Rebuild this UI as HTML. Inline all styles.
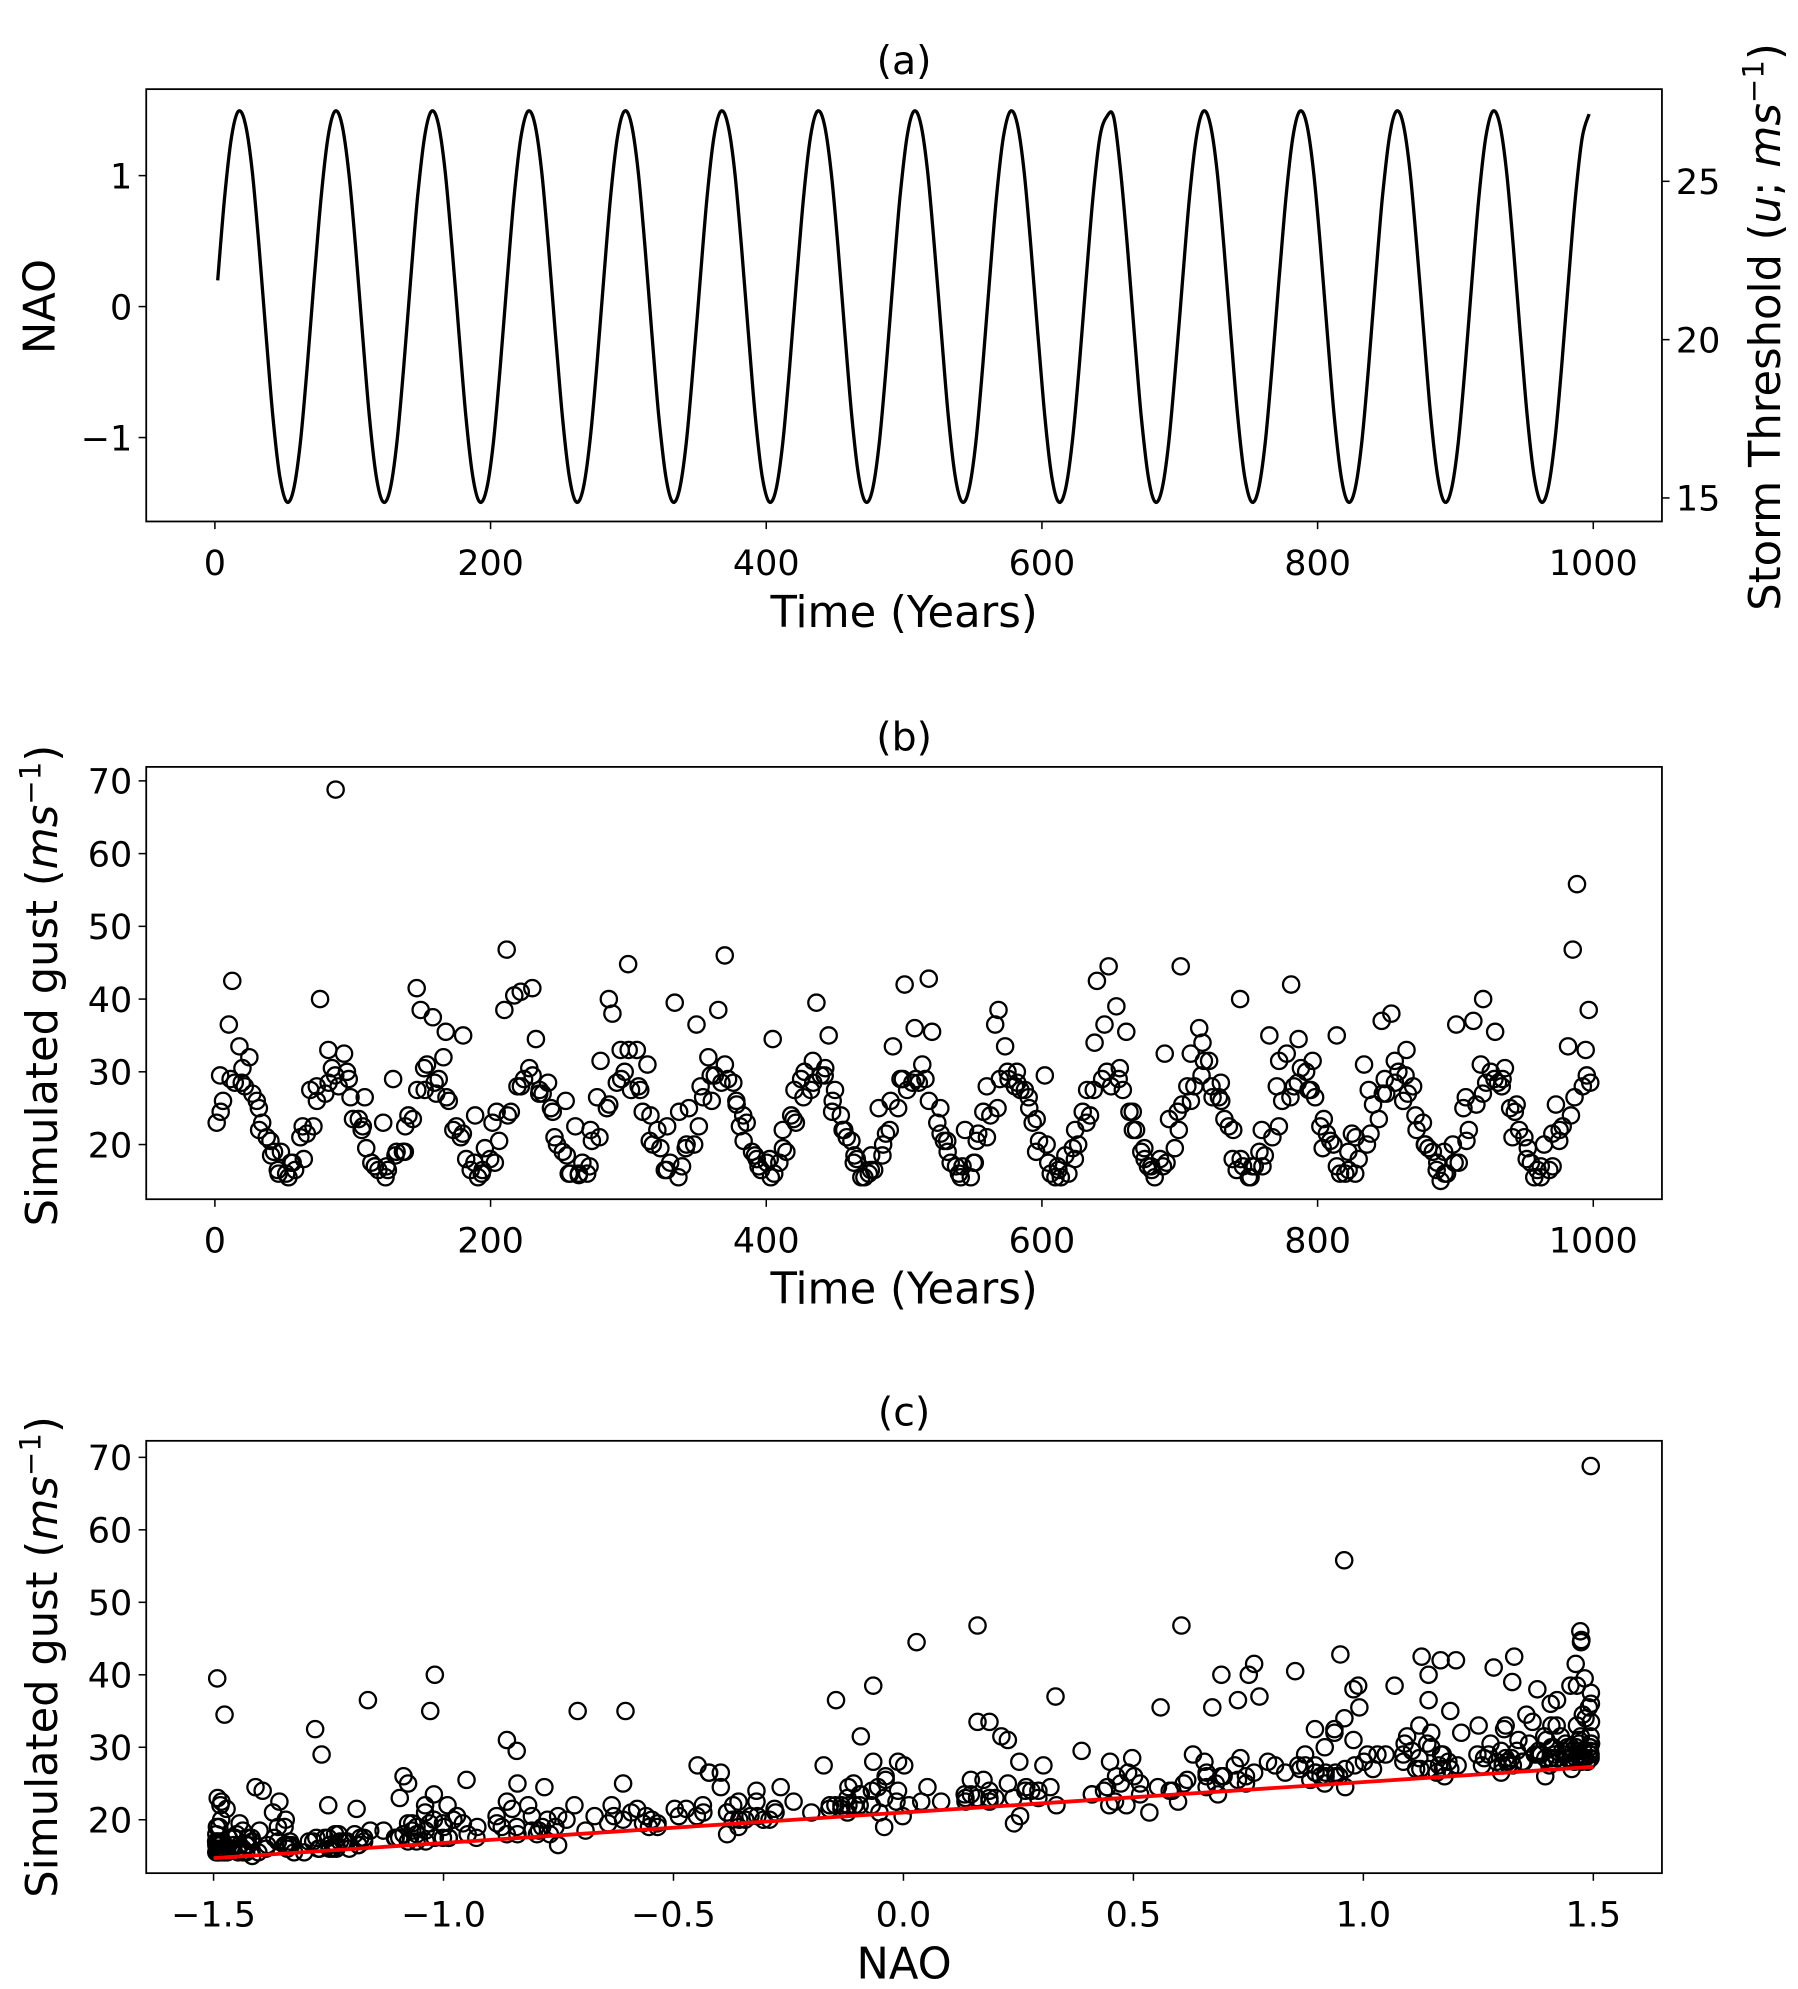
<!DOCTYPE html>
<html><head><meta charset="utf-8"><style>
html,body{margin:0;padding:0;background:#fff}
svg{display:block}
text{font-family:"DejaVu Sans","Liberation Sans",sans-serif;fill:#000}
</style></head>
<body>
<svg id="fig" width="1798" height="1989" viewBox="0 0 1414 1564" xmlns="http://www.w3.org/2000/svg"></svg>
<script>
// ---- data ----
const naoTimes0 = 2, naoStep = 5;
const naoValues = [
0.20,0.83,1.29,1.49,1.40,1.04,0.46,-0.20,-0.83,-1.29,-1.49,-1.40,-1.04,-0.46,
0.20,0.83,1.29,1.49,1.40,1.04,0.46,-0.20,-0.83,-1.29,-1.49,-1.40,-1.04,-0.46,
0.20,0.83,1.29,1.49,1.40,1.04,0.46,-0.20,-0.83,-1.29,-1.49,-1.40,-1.04,-0.46,
0.20,0.83,1.29,1.49,1.40,1.04,0.46,-0.20,-0.83,-1.29,-1.49,-1.40,-1.04,-0.46,
0.20,0.83,1.29,1.49,1.40,1.04,0.46,-0.20,-0.83,-1.29,-1.49,-1.40,-1.04,-0.46,
0.20,0.83,1.29,1.49,1.40,1.04,0.46,-0.20,-0.83,-1.29,-1.49,-1.40,-1.04,-0.46,
0.20,0.83,1.29,1.49,1.40,1.04,0.46,-0.20,-0.83,-1.29,-1.49,-1.40,-1.04,-0.46,
0.20,0.83,1.29,1.49,1.40,1.04,0.46,-0.20,-0.83,-1.29,-1.49,-1.40,-1.04,-0.46,
0.20,0.83,1.29,1.49,1.40,1.04,0.46,-0.20,-0.83,-1.29,-1.49,-1.40,-1.04,-0.46,
0.20,0.83,1.29,1.45,1.45,1.04,0.46,-0.20,-0.83,-1.29,-1.49,-1.40,-1.04,-0.46,
0.20,0.83,1.29,1.49,1.40,1.04,0.46,-0.20,-0.83,-1.29,-1.49,-1.40,-1.04,-0.46,
0.20,0.83,1.29,1.49,1.40,1.04,0.46,-0.20,-0.83,-1.29,-1.49,-1.40,-1.04,-0.46,
0.20,0.83,1.29,1.49,1.40,1.04,0.46,-0.20,-0.83,-1.29,-1.49,-1.40,-1.04,-0.46,
0.20,0.83,1.29,1.49,1.40,1.04,0.46,-0.20,-0.83,-1.29,-1.49,-1.40,-1.04,-0.46,
0.20,0.83,1.29,1.47
];
// event timing jitter (years) applied to the gust series
const timeJitter = [0.3,-1.2,1.1,-0.4,0.8,-1.5,0.0,1.4,-0.9,0.6,-0.2,1.2,-1.1,0.4,-0.6,1.0,-1.3,0.2,0.9,-0.7,1.3,-0.1,-1.4,0.7,0.1,-0.8,1.5,-0.3,0.5,-1.0,1.1,-0.5,0.3,-1.2,0.8,-0.6,1.4];
const gustTime0 = 1, gustStep = 4;
const gustValues = [
23.0,29.5,36.5,42.5,33.5,28.5,32.0,26.0,22.0,21.0,18.5,16.0,19.0,15.5,17.5,21.0,22.5,27.5,28.0,40.0,
33.0,30.5,68.8,32.5,29.0,23.5,22.0,26.5,17.5,17.0,23.0,17.0,29.0,19.0,19.0,24.0,41.5,38.5,30.5,37.5,
27.0,32.0,35.5,22.0,21.0,35.0,16.5,24.0,16.5,19.5,23.0,24.5,38.5,46.8,40.5,41.0,29.0,41.5,34.5,27.5,
28.5,24.5,20.0,26.0,16.0,22.5,15.8,16.0,22.0,26.5,31.5,40.0,38.0,33.0,30.0,44.8,33.0,27.5,31.0,20.5,
22.0,16.5,22.5,39.5,24.5,20.0,25.0,36.5,28.0,32.0,29.5,38.5,46.0,29.0,26.0,22.5,20.5,19.0,18.0,16.5,
18.0,34.5,17.5,22.0,24.0,27.5,29.0,30.0,31.5,39.5,29.5,35.0,24.5,24.0,22.0,20.5,17.5,15.5,16.0,18.5,
25.0,20.0,26.0,33.5,29.0,42.0,28.5,36.0,31.0,42.8,35.5,25.0,20.5,19.0,17.0,15.5,22.0,17.5,20.5,24.5,
28.0,36.5,38.5,33.5,29.0,30.0,27.5,26.5,23.0,19.0,29.5,17.5,15.5,17.0,18.5,19.5,22.0,24.5,27.5,34.0,
42.5,36.5,44.5,39.0,29.0,35.5,24.5,22.0,19.5,17.0,16.5,18.0,32.5,23.5,24.5,44.5,28.0,32.5,36.0,34.0,
31.5,26.5,28.5,23.5,18.0,16.5,40.0,15.5,17.0,19.0,22.0,35.0,28.0,31.5,32.5,42.0,34.5,30.5,27.5,31.5,
22.5,19.5,20.5,35.0,16.0,19.0,21.5,21.0,31.0,27.5,25.5,37.0,29.0,38.0,31.5,26.0,33.0,28.0,22.0,20.0,
19.5,16.5,15.0,19.0,20.0,36.5,25.0,26.5,37.0,31.0,40.0,30.0,35.5,29.0,30.5,21.0,25.5,21.0,18.0,15.5,
17.0,20.0,21.5,25.5,22.0,33.5,46.8,55.8,33.0,38.5
];
const gustTime0b = 3;
const gustValuesB = [
24.5,26.0,29.0,28.5,30.5,28.0,27.0,25.0,23.0,20.5,19.0,16.5,16.0,17.5,16.5,18.0,21.5,22.5,26.0,27.0,28.5,29.5,28.0,30.0,26.5,23.5,22.5,19.5,17.0,16.5,15.5,16.5,18.5,19.0,22.5,
23.5,27.5,27.5,31.0,28.5,29.0,26.5,26.0,22.5,21.5,18.0,17.5,15.5,16.0,18.0,17.5,20.5,24.0,24.5,28.0,28.0,30.5,29.5,27.0,27.0,25.0,21.0,19.0,18.5,16.0,16.0,17.5,17.0,20.5,21.0,
25.0,25.5,28.5,29.0,33.0,27.5,28.0,24.5,24.0,20.0,19.5,16.5,17.5,15.5,17.0,19.5,20.0,22.5,26.5,26.0,29.5,28.5,31.0,28.5,25.5,24.0,23.0,18.5,17.0,17.5,15.5,16.0,19.5,19.0,23.5,
23.0,26.5,27.5,28.5,29.5,30.5,26.0,27.5,22.0,21.0,18.5,18.0,15.5,16.5,16.5,18.5,21.5,22.0,25.0,29.0,27.5,29.0,28.5,29.0,26.0,23.0,21.5,20.5,17.5,16.0,17.0,15.5,17.5,21.5,21.0,
24.0,25.0,29.0,30.0,28.0,28.5,27.5,25.0,23.5,20.5,20.0,16.0,16.5,15.5,16.0,18.0,20.0,23.0,24.0,27.5,29.0,30.0,28.0,30.5,27.5,24.5,22.0,19.0,18.0,17.0,15.5,17.0,17.5,19.5,22.0,
25.5,26.0,28.0,29.5,31.5,28.0,26.5,26.0,22.5,22.0,18.0,17.0,15.5,17.0,17.0,18.5,21.0,22.5,26.0,26.5,28.0,28.5,30.0,27.5,26.5,23.5,21.5,20.0,17.0,16.0,16.5,16.0,18.0,20.0,21.5,
23.5,27.0,27.0,28.5,30.0,29.5,27.0,24.0,23.0,20.0,19.0,17.5,16.0,16.0,17.5,17.5,20.5,22.0,25.5,27.0,28.5,29.0,28.5,28.0,25.0,24.5,22.0,19.5,17.5,16.5,15.5,16.5,17.0,20.5,22.5,
24.0,26.5,28.0,29.5,28.5
];
const fitIntercept = [21.0];
const fitSlope = [4.2];
const timeTicks = [0,200,400,600,800,1000];
const naoTicks = [-1,0,1];
const thrTicks = [15,20,25];
const gustTicks = [20,30,40,50,60,70];
const naoXTicks = [-1.5,-1.0,-0.5,0.0,0.5,1.0,1.5];

const NS="http://www.w3.org/2000/svg";
const svg=document.getElementById('fig');
function mk(tag,attrs,parent){const e=document.createElementNS(NS,tag);for(const k in attrs)e.setAttribute(k,attrs[k]);(parent||svg).appendChild(e);return e;}
function txt(s,attrs,parent){const e=mk('text',attrs,parent);e.textContent=s;return e;}

const L=115,R=1307;
const TF=27.5, LF=34, HF=31;
const xTime=t=>169+t*(1253-169)/1000;
const yNAO=v=>241-v*103;
const yThr=v=>267-(v-20)*24.9;
const yGustB=v=>900-(v-20)*5.72;
const xNAO=v=>710.5+v*361.7;
const yGustC=v=>1431-(v-20)*5.7;
function naoAt(t){const f=(t-naoTimes0)/naoStep;let i=Math.floor(f);const n=naoValues.length;
  if(i<0)return naoValues[0];if(i>=n-1)return naoValues[n-1];
  const r=f-i;const p0=naoValues[Math.max(i-1,0)],p1=naoValues[i],p2=naoValues[i+1],p3=naoValues[Math.min(i+2,n-1)];
  return 0.5*((2*p1)+(-p0+p2)*r+(2*p0-5*p1+4*p2-p3)*r*r+(-p0+3*p1-3*p2+p3)*r*r*r);}
const tA=i=>gustTime0+i*gustStep+timeJitter[i%timeJitter.length];
const tB=i=>gustTime0b+i*gustStep+timeJitter[(i+11)%timeJitter.length];

function frame(top,bot,name){
  const r=mk('rect',{x:L,y:top,width:R-L,height:bot-top,fill:'none',stroke:'#000','stroke-width':1.4});
  
  
}
function xticks(vals,fx,bot,labY,fmt,name){
  const g=mk('g',{});
  
  
  vals.forEach(v=>{const x=fx(v);mk('line',{x1:x,x2:x,y1:bot,y2:bot+6,stroke:'#000','stroke-width':1.2},g);
    txt(fmt(v),{x:x,y:labY,'font-size':TF,'text-anchor':'middle'},g);});
}
function yticks(vals,fy,name,right){
  const g=mk('g',{});
  
  
  vals.forEach(v=>{const y=fy(v);
    if(right){mk('line',{x1:R,x2:R+6,y1:y,y2:y,stroke:'#000','stroke-width':1.2},g);
      txt(String(v),{x:R+11,y:y+10,'font-size':TF,'text-anchor':'start'},g);}
    else{mk('line',{x1:L-6,x2:L,y1:y,y2:y,stroke:'#000','stroke-width':1.2},g);
      txt(String(v).replace('-','\u2212'),{x:L-11,y:y+10,'font-size':TF,'text-anchor':'end'},g);}
  });
}
function title(s,y,name){const t=txt(s,{x:711,y:y,'font-size':HF,'text-anchor':'middle'});}
function xlabel(s,y,name){const t=txt(s,{x:711,y:y,'font-size':LF,'text-anchor':'middle'});}
function gustYLabel(cy,name){
  const t=mk('text',{x:0,y:0,'font-size':LF,'text-anchor':'middle',transform:`translate(45,${cy}) rotate(-90)`});
  
  t.innerHTML='Simulated gust (<tspan font-style="italic">ms</tspan><tspan font-size="23" dy="-13">\u22121</tspan><tspan dy="13">)</tspan>';
}

// ---- panel a ----
title('(a)',58,'title-a');
frame(70,410,'axes-a');
const pts=naoValues.map((v,i)=>[xTime(naoTimes0+i*naoStep),yNAO(v)]);
let d='M'+pts[0][0].toFixed(1)+','+pts[0][1].toFixed(1);
for(let i=0;i<pts.length-1;i++){const p0=pts[Math.max(i-1,0)],p1=pts[i],p2=pts[i+1],p3=pts[Math.min(i+2,pts.length-1)];
  const c1x=p1[0]+(p2[0]-p0[0])/6,c1y=p1[1]+(p2[1]-p0[1])/6,c2x=p2[0]-(p3[0]-p1[0])/6,c2y=p2[1]-(p3[1]-p1[1])/6;
  d+=` C${c1x.toFixed(1)},${c1y.toFixed(1)} ${c2x.toFixed(1)},${c2y.toFixed(1)} ${p2[0].toFixed(1)},${p2[1].toFixed(1)}`;}
const pa=mk('path',{d:d,fill:'none',stroke:'#000','stroke-width':2.6,'stroke-linejoin':'round'});


xticks(timeTicks,xTime,410,452,v=>String(v),'x-ticks-a');
yticks(naoTicks,yNAO,'y-ticks-a',false);
yticks(thrTicks,yThr,'y-ticks-a-right',true);
xlabel('Time (Years)',493,'x-axis-title-a');
const la=txt('NAO',{x:0,y:0,'font-size':LF,'text-anchor':'middle',transform:'translate(43,241) rotate(-90)'});

const lr=mk('text',{x:0,y:0,'font-size':LF,'text-anchor':'middle',transform:'translate(1400,257) rotate(-90)'});

lr.innerHTML='Storm Threshold (<tspan font-style="italic">u</tspan>; <tspan font-style="italic">ms</tspan><tspan font-size="23" dy="-13">\u22121</tspan><tspan dy="13">)</tspan>';

// ---- panel b ----
title('(b)',590,'title-b');
frame(603,943,'axes-b');
const gb=mk('g',{fill:'none',stroke:'#000','stroke-width':1.8});


gustValuesB.forEach((v,i)=>{const c=mk('circle',{cx:xTime(tB(i)),cy:yGustB(v),r:6.4},gb);
  
  });
gustValues.forEach((v,i)=>{const c=mk('circle',{cx:xTime(tA(i)),cy:yGustB(v),r:6.4},gb);
  
  });
xticks(timeTicks,xTime,943,985,v=>String(v),'x-ticks-b');
yticks(gustTicks,yGustB,'y-ticks-b',false);
xlabel('Time (Years)',1025,'x-axis-title-b');
gustYLabel(775,'y-axis-title-b');

// ---- panel c ----
title('(c)',1121,'title-c');
frame(1133,1473,'axes-c');
const gc=mk('g',{fill:'none',stroke:'#000','stroke-width':1.8});


gustValuesB.forEach((v,i)=>{const c=mk('circle',{cx:xNAO(naoAt(tB(i))),cy:yGustC(v),r:6.4},gc);
  
  });
gustValues.forEach((v,i)=>{const c=mk('circle',{cx:xNAO(naoAt(tA(i))),cy:yGustC(v),r:6.4},gc);
  
  });
const fl=mk('line',{x1:xNAO(-1.5),y1:yGustC(fitIntercept[0]+fitSlope[0]*-1.5),x2:xNAO(1.5),y2:yGustC(fitIntercept[0]+fitSlope[0]*1.5),stroke:'#ff0000','stroke-width':3});


xticks(naoXTicks,xNAO,1473,1515,v=>v.toFixed(1).replace('-','\u2212'),'x-ticks-c');
yticks(gustTicks,yGustC,'y-ticks-c',false);
xlabel('NAO',1556,'x-axis-title-c');
gustYLabel(1303,'y-axis-title-c');
</script>
</body></html>
